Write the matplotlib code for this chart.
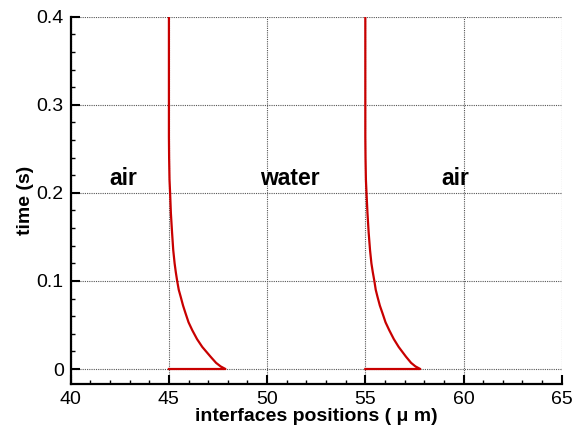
import matplotlib
matplotlib.use("Agg")
import matplotlib.pyplot as plt
from matplotlib.ticker import MultipleLocator

plt.rcParams['font.family'] = ['Liberation Sans', 'DejaVu Sans']

# interface 1 (left air / water)
time_1 = [0.0, 0.0, 0.003, 0.007, 0.014, 0.025, 0.034, 0.044, 0.053, 0.063,
          0.072, 0.082, 0.090, 0.100, 0.110, 0.120, 0.135, 0.155, 0.177,
          0.200, 0.215, 0.240, 0.264, 0.400]
pos_1 = [45.0, 47.88, 47.63, 47.40, 47.12, 46.70, 46.43, 46.19, 46.00, 45.85,
         45.72, 45.60, 45.50, 45.42, 45.35, 45.29, 45.22, 45.16, 45.10,
         45.06, 45.03, 45.01, 45.00, 45.00]

# interface 2 (water / right air)
time_2 = [0.0, 0.0, 0.003, 0.007, 0.014, 0.025, 0.034, 0.044, 0.053, 0.063,
          0.072, 0.082, 0.090, 0.100, 0.110, 0.120, 0.135, 0.155, 0.177,
          0.200, 0.215, 0.240, 0.264, 0.400]
pos_2 = [55.0, 57.80, 57.55, 57.33, 57.07, 56.70, 56.45, 56.22, 56.03, 55.88,
         55.74, 55.62, 55.53, 55.46, 55.38, 55.31, 55.24, 55.17, 55.11,
         55.06, 55.03, 55.01, 55.00, 55.00]

x_ticks = [40, 45, 50, 55, 60, 65]
x_tick_labels = ["40", "45", "50", "55", "60", "65"]
y_ticks = [0.0, 0.1, 0.2, 0.3, 0.4]
y_tick_labels = ["0", "0.1", "0.2", "0.3", "0.4"]

regions = ["air", "water", "air"]
region_x = [42.66, 51.17, 59.57]

fig = plt.figure(figsize=(5.74, 4.36), dpi=100)
ax = fig.add_axes([0.1232, 0.1193, 0.8554, 0.8424])

ax.grid(True, which='major', color='#555555', linestyle=(0, (1, 1)), linewidth=0.8)
ax.set_axisbelow(True)

red = '#c80000'
ax.plot(pos_1, time_1, color=red, linewidth=1.6, zorder=3)
ax.plot(pos_2, time_2, color=red, linewidth=1.6, zorder=3)

for name, xr in zip(regions, region_x):
    ax.text(xr, 0.209, name, ha='center', va='baseline',
            fontsize=16.5, fontweight='bold')

ax.set_xlim(40, 65)
ax.set_ylim(-0.017, 0.4)
ax.set_xticks(x_ticks)
ax.set_xticklabels(x_tick_labels)
ax.set_yticks(y_ticks)
ax.set_yticklabels(y_tick_labels)
ax.xaxis.set_minor_locator(MultipleLocator(1))
ax.yaxis.set_minor_locator(MultipleLocator(0.02))

ax.tick_params(which='major', direction='in', length=6.7, width=1.5,
               labelsize=14, pad=5, top=False, right=False)
ax.tick_params(which='minor', direction='in', length=3.2, width=1.0,
               top=False, right=False)

for side in ['top', 'right']:
    ax.spines[side].set_visible(False)
for side in ['left', 'bottom']:
    ax.spines[side].set_linewidth(1.6)

ax.set_xlabel("interfaces positions ( \u03bc m)", fontsize=14, fontweight='bold', labelpad=0)
ax.set_ylabel("time (s)", fontsize=14, fontweight='bold', labelpad=2)

fig.savefig("out.png", dpi=100)
